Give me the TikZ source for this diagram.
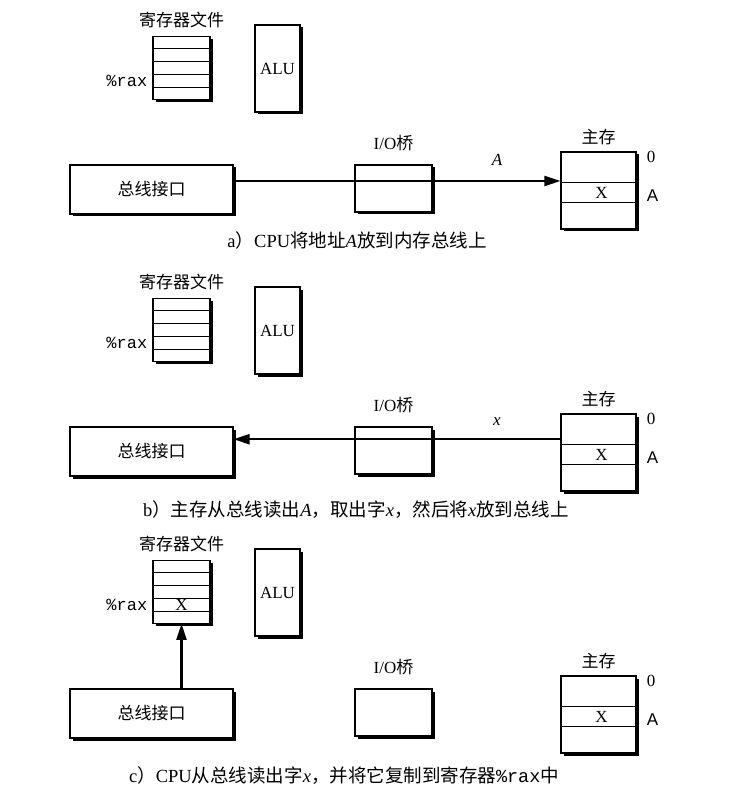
\documentclass[tikz,border=0pt]{standalone}
\usepackage{fontspec}
\setmainfont{Liberation Serif}
\setsansfont{Liberation Sans}
\setmonofont{Liberation Mono}
\newfontfamily\cjk{Noto Sans CJK SC}
\usetikzlibrary{arrows.meta,positioning,shadows,calc}
\newcommand{\zh}[1]{{\cjk #1}}

\begin{document}
\begin{tikzpicture}[
      x=1pt, y=-1pt,
      every node/.style={font=\fontsize{17pt}{20pt}\selectfont, inner sep=1pt},
      unit/.style={rectangle, draw=black, line width=1.1pt, fill=white,
                   drop shadow={shadow xshift=2.5pt, shadow yshift=-2.5pt,
                                fill=black, opacity=1}},
      regbox/.style={unit, minimum width=57pt, minimum height=62.5pt},
      alubox/.style={unit, minimum width=45pt, minimum height=87pt},
      busbox/.style={unit, minimum width=163pt, minimum height=49pt},
      bridgebox/.style={unit, minimum width=77pt, minimum height=47pt},
      membox/.style={unit, minimum width=75pt, minimum height=77pt},
      regname/.style={font=\fontsize{17pt}{20pt}\selectfont\ttfamily},
      caption/.style={font=\fontsize{18.5pt}{22pt}\selectfont},
      row/.style={line width=0.9pt},
      busarr/.style={line width=2.2pt, -{Triangle[length=16pt, width=10pt]}},
    ]
    \useasboundingbox (0,0) rectangle (740,799);

    % ---------- a) CPU puts address A on the bus
    \node[regbox] (rfa) at (181.5,68) {};
    \node[above=7pt of rfa] (rftitlea) {\zh{寄存器文件}};
    \foreach \f in {0.2,0.4,0.6,0.8}
      \draw[row] ($(rfa.north west)!\f!(rfa.south west)$) -- ($(rfa.north east)!\f!(rfa.south east)$);
    \node[regname, anchor=east, xshift=-4pt] (raxa) at ($(rfa.north west)!0.7!(rfa.south west)$) {\%rax};
    \node[alubox] (alua) at (277.5,68.5) {ALU};

    \node[busbox] (busa) at (151.5,189.5) {\zh{总线接口}};
    \node[bridgebox] (bridgea) at (393.5,188.5) {};
    \node[above=12pt of bridgea] (bridgelbla) {I/O\zh{桥}};
    \node[membox] (mema) at (598.5,190.5) {};
    \node[above=5pt of mema] (memlbla) {\zh{主存}};
    \foreach \f in {0.40,0.65}
      \draw[row] ($(mema.north west)!\f!(mema.south west)$) -- ($(mema.north east)!\f!(mema.south east)$);
    \node[xshift=3pt] (memxa) at ($(mema.north)!0.525!(mema.south)$) {X};
    \node[anchor=west] (zeroa) at ($(mema.north east)+(9,5)$) {0};
    \node[anchor=west, font=\fontsize{17pt}{20pt}\sffamily] (addra) at ($(mema.north east)!0.56!(mema.south east)+(9,0)$) {A};

    \coordinate (pa) at ($(busa.north east)!0.33!(busa.south east)$);
    \draw[busarr] (pa) -- (pa -| mema.west);
    \node (lbla) at (497,160) {\textit{A}};
    \node[caption] (capa) at (357,240) {a\zh{）}CPU\zh{将地址}\textit{A}\zh{放到内存总线上}};

    % ---------- b) memory reads A and puts word x on the bus
    \node[regbox] (rfb) at (181.5,330) {};
    \node[above=7pt of rfb] (rftitleb) {\zh{寄存器文件}};
    \foreach \f in {0.2,0.4,0.6,0.8}
      \draw[row] ($(rfb.north west)!\f!(rfb.south west)$) -- ($(rfb.north east)!\f!(rfb.south east)$);
    \node[regname, anchor=east, xshift=-4pt] (raxb) at ($(rfb.north west)!0.7!(rfb.south west)$) {\%rax};
    \node[alubox] (alub) at (277.5,330.5) {ALU};

    \node[busbox] (busb) at (151.5,451.5) {\zh{总线接口}};
    \node[bridgebox] (bridgeb) at (393.5,450.5) {};
    \node[above=12pt of bridgeb] (bridgelblb) {I/O\zh{桥}};
    \node[membox] (memb) at (598.5,452.5) {};
    \node[above=5pt of memb] (memlblb) {\zh{主存}};
    \foreach \f in {0.40,0.65}
      \draw[row] ($(memb.north west)!\f!(memb.south west)$) -- ($(memb.north east)!\f!(memb.south east)$);
    \node[xshift=3pt] (memxb) at ($(memb.north)!0.525!(memb.south)$) {X};
    \node[anchor=west] (zerob) at ($(memb.north east)+(9,5)$) {0};
    \node[anchor=west, font=\fontsize{17pt}{20pt}\sffamily] (addrb) at ($(memb.north east)!0.56!(memb.south east)+(9,0)$) {A};

    \coordinate (pb) at ($(memb.north west)!0.33!(memb.south west)$);
    \draw[busarr] (pb) -- (pb -| busb.east);
    \node (lblb) at (497,422) {\textit{x}};
    \node[caption] (capb) at (356,510) {b\zh{）主存从总线读出}\textit{A}\zh{，取出字}\textit{x}\zh{，然后将}\textit{x}\zh{放到总线上}};

    % ---------- c) CPU reads word x and copies it into %rax
    \node[regbox] (rfc) at (181.5,592) {};
    \node[above=7pt of rfc] (rftitlec) {\zh{寄存器文件}};
    \foreach \f in {0.2,0.4,0.6,0.8}
      \draw[row] ($(rfc.north west)!\f!(rfc.south west)$) -- ($(rfc.north east)!\f!(rfc.south east)$);
    \node[regname, anchor=east, xshift=-4pt] (raxc) at ($(rfc.north west)!0.7!(rfc.south west)$) {\%rax};
    \node (regxc) at ($(rfc.north)!0.7!(rfc.south)$) {X};
    \node[alubox] (aluc) at (277.5,592.5) {ALU};

    \node[busbox] (busc) at (151.5,713.5) {\zh{总线接口}};
    \node[bridgebox] (bridgec) at (393.5,712.5) {};
    \node[above=12pt of bridgec] (bridgelblc) {I/O\zh{桥}};
    \node[membox] (memc) at (598.5,714.5) {};
    \node[above=5pt of memc] (memlblc) {\zh{主存}};
    \foreach \f in {0.40,0.65}
      \draw[row] ($(memc.north west)!\f!(memc.south west)$) -- ($(memc.north east)!\f!(memc.south east)$);
    \node[xshift=3pt] (memxc) at ($(memc.north)!0.525!(memc.south)$) {X};
    \node[anchor=west] (zeroc) at ($(memc.north east)+(9,5)$) {0};
    \node[anchor=west, font=\fontsize{17pt}{20pt}\sffamily] (addrc) at ($(memc.north east)!0.56!(memc.south east)+(9,0)$) {A};

    \draw[busarr] (rfc.south |- busc.north) -- (rfc.south);
    \node[caption] (capc) at (344,776) {c\zh{）}CPU\zh{从总线读出字}\textit{x}\zh{，并将它复制到寄存器}\texttt{\%rax}\zh{中}};
  \end{tikzpicture}
\end{document}
